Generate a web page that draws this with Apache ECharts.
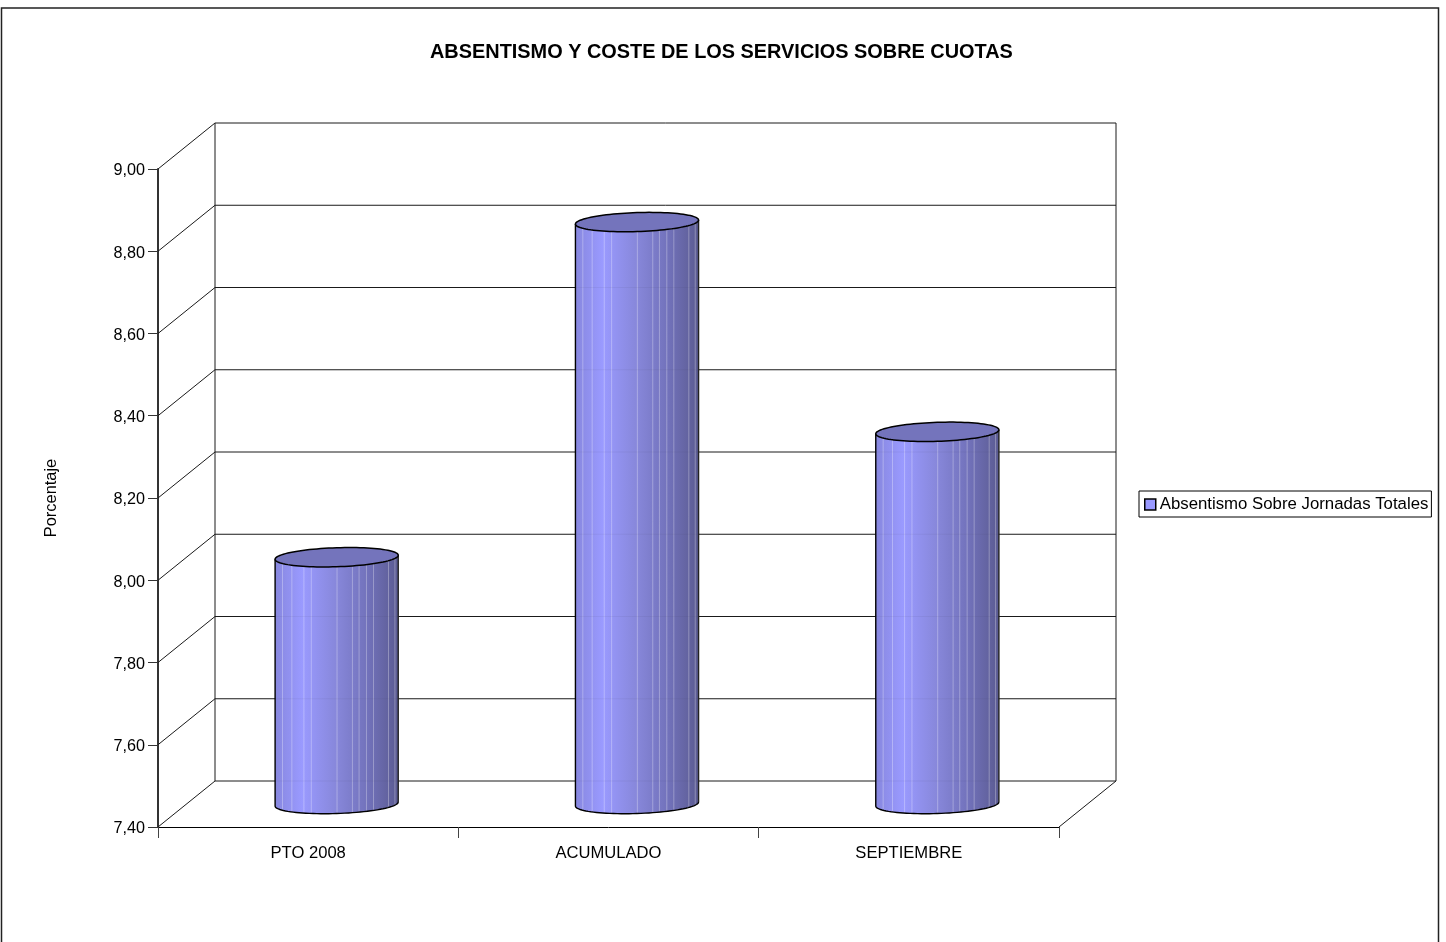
<!DOCTYPE html>
<html>
<head>
<meta charset="utf-8">
<style>html,body{margin:0;padding:0;background:#fff;overflow:hidden}#c{width:1446px;height:942px}</style>
<script src="https://cdn.jsdelivr.net/npm/echarts@6/dist/echarts.min.js"></script>
</head>
<body>
<div id="c"></div>
<script>
const titleText = 'ABSENTISMO Y COSTE DE LOS SERVICIOS SOBRE CUOTAS';
const categories = ['PTO 2008', 'ACUMULADO', 'SEPTIEMBRE'];
const values = [8.00, 8.815, 8.305];
const seriesName = 'Absentismo Sobre Jornadas Totales';
const yTicks = [7.4, 7.6, 7.8, 8.0, 8.2, 8.4, 8.6, 8.8, 9.0];
const yName = 'Porcentaje';

const FONT = '"Liberation Sans", Arial, sans-serif';
const DX = 57, DY = -46;          // 3D depth of the box
const BAR_RATIO = 0.41;
const STRIPES = [.06, .136, .234, .294, .503, .628, .682, .742, .799, .921, .973];
const LINE = {stroke: '#1a1a1a', lineWidth: 1, fill: null};

const chart = echarts.init(document.getElementById('c'), null, {renderer: 'canvas', width: 1446, height: 942});

function line(x1, y1, x2, y2) {
  return {type: 'line', shape: {x1, y1, x2, y2}, style: LINE, subPixelOptimize: true};
}

function renderWalls(params, api) {
  const cs = params.coordSys;
  const l = cs.x, r = cs.x + cs.width;
  const y = api.coord([0, api.value(0)])[1];
  const kids = [
    line(l + DX, y + DY, r + DX, y + DY),
    line(l, y, l + DX, y + DY)
  ];
  if (params.dataIndex === 0) {
    kids.push(line(r, y, r + DX, y + DY));
    kids.push(line(l + DX, cs.y + DY, l + DX, y + DY));
    kids.push(line(r + DX, cs.y + DY, r + DX, y + DY));
  }
  return {type: 'group', children: kids};
}

function arcPoints(cx, cy, a, b, shear, from, to, n) {
  const pts = [];
  for (let i = 0; i <= n; i++) {
    const t = from + (to - from) * i / n;
    pts.push([cx + a * Math.cos(t), cy - shear * Math.cos(t) - b * Math.sin(t)]);
  }
  return pts;
}

function renderCylinder(params, api) {
  const c = api.value(0), v = api.value(1);
  const top = api.coord([c, v]);
  const base = api.coord([c, yTicks[0]]);
  const a = api.size([1, 0])[0] * BAR_RATIO / 2;
  const cx = top[0] + DX / 2;
  const ty = top[1] + DY / 2, by = base[1] + DY / 2;
  const b = 9.5, sh = 2;

  const topFront = arcPoints(cx, ty, a, b, sh, Math.PI, 2 * Math.PI, 48);   // left → right through front
  const botFront = arcPoints(cx, by, a, b, sh, 2 * Math.PI, Math.PI, 48);   // right → left through front
  const body = topFront.concat(botFront);

  const frontY = (yc, fx) => yc - sh * fx + b * Math.sqrt(Math.max(0, 1 - fx * fx));
  const kids = [{
    type: 'polygon',
    shape: {points: body},
    style: {
      fill: new echarts.graphic.LinearGradient(0, 0, 1, 0, [
        {offset: 0, color: '#8787de'},
        {offset: .22, color: '#9a9aff'},
        {offset: .5, color: '#8787da'},
        {offset: .75, color: '#7272bb'},
        {offset: 1, color: '#5b5b92'}
      ]),
      stroke: null
    }
  }];
  STRIPES.forEach(f => {
    const fx = 2 * f - 1;
    const x = cx + a * fx;
    kids.push({
      type: 'line',
      shape: {x1: x, y1: frontY(ty, fx), x2: x, y2: frontY(by, fx)},
      style: {stroke: 'rgba(255,255,255,0.3)', lineWidth: 1}
    });
  });
  yTicks.forEach(t => {
    const gy = api.coord([c, t])[1] + DY;
    if (gy > ty + b + 2 && gy < by) {
      kids.push({
        type: 'line', subPixelOptimize: true,
        shape: {x1: cx - a, y1: gy, x2: cx + a, y2: gy},
        style: {stroke: 'rgba(60,60,90,0.07)', lineWidth: 1}
      });
    }
  });
  kids.push({type: 'polyline', shape: {points: botFront.concat([[cx - a, ty + sh]])}, style: {stroke: '#000', lineWidth: 1.4, fill: null}});
  kids.push({type: 'line', shape: {x1: cx + a, y1: ty - sh, x2: cx + a, y2: by - sh}, style: {stroke: '#222', lineWidth: 1.4}});
  kids.push({
    type: 'polygon',
    shape: {points: arcPoints(cx, ty, a, b, sh, 0, 2 * Math.PI, 96)},
    style: {fill: '#7474bc', stroke: '#000', lineWidth: 1.5}
  });
  return {type: 'group', children: kids};
}

chart.setOption({
  animation: false,
  backgroundColor: '#fff',
  title: {
    text: titleText, left: 430, top: 43, padding: 0,
    textStyle: {fontFamily: FONT, fontWeight: 'bold', fontSize: 19.9, color: '#000'}
  },
  legend: {
    left: 1139, top: 491, orient: 'horizontal',
    padding: [5, 3, 4, 5],
    borderColor: '#000', borderWidth: 1, backgroundColor: '#fff',
    icon: 'rect', itemWidth: 11, itemHeight: 11, itemGap: 4,
    textStyle: {fontFamily: FONT, fontSize: 16.8, color: '#000', padding: [0, 0, 0, -1]},
    data: [{name: seriesName, itemStyle: {color: '#9999ff', borderColor: '#000', borderWidth: 1.5}}]
  },
  graphic: [{
    type: 'rect', silent: true, z: -1,
    shape: {x: 1.5, y: 8, width: 1437, height: 960},
    style: {fill: null, stroke: '#222', lineWidth: 1.5}
  }],
  grid: {left: 158, top: 169, width: 901, height: 658, containLabel: false},
  xAxis: {
    type: 'category', data: categories,
    axisLine: {show: true, lineStyle: {color: '#000', width: 1}},
    axisTick: {show: true, length: 11, alignWithLabel: false, lineStyle: {color: '#444'}},
    axisLabel: {fontFamily: FONT, fontSize: 16.6, color: '#000', margin: 18},
    splitLine: {show: false}
  },
  yAxis: {
    type: 'value', min: yTicks[0], max: yTicks[yTicks.length - 1], interval: 0.2,
    name: yName, nameLocation: 'middle', nameRotate: 90, nameGap: 99,
    nameTextStyle: {fontFamily: FONT, fontSize: 16.4, color: '#000'},
    axisLine: {show: true, lineStyle: {color: '#333', width: 2}},
    axisTick: {show: true, length: 10, lineStyle: {color: '#333'}},
    axisLabel: {
      color: '#000', margin: 13,
      formatter: v => '{t|' + v.toFixed(2).replace('.', ',') + '}',
      rich: {t: {fontFamily: FONT, fontSize: 16.2, color: '#000', padding: [4, 0, 0, 0]}}
    },
    splitLine: {show: false}
  },
  series: [{
    type: 'custom', silent: true, z: 1, clip: false,
    renderItem: renderWalls,
    encode: {x: -1, y: 0},
    data: yTicks.map(v => [v]),
    tooltip: {show: false}
  }, {
    name: seriesName, type: 'custom', z: 3, clip: false,
    itemStyle: {color: '#9999ff'},
    renderItem: renderCylinder,
    encode: {x: 0, y: 1},
    data: categories.map((c, i) => [i, values[i]])
  }]
});
</script>
</body>
</html>
